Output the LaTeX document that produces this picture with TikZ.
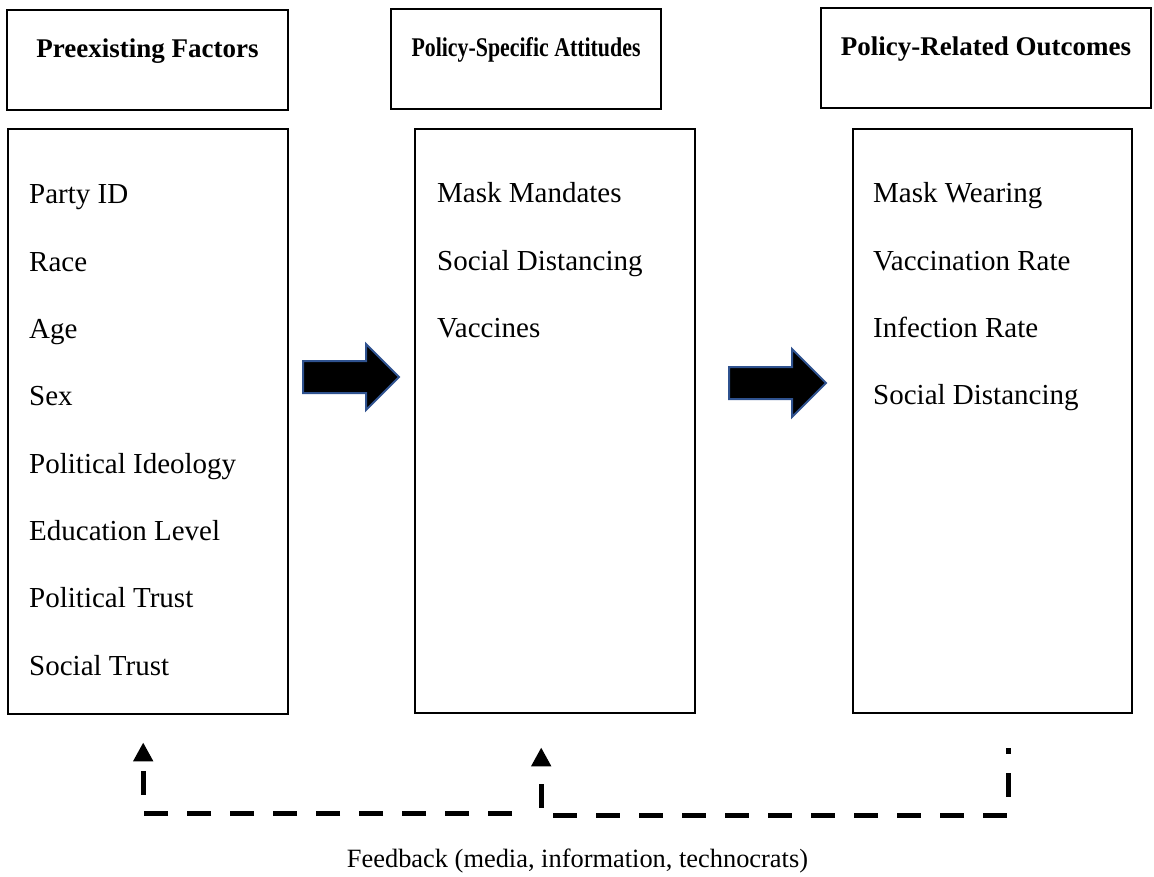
\documentclass[tikz,border=0pt]{standalone}
\usepackage{fontspec}
\setmainfont{Liberation Serif}
\usepackage{xcolor}
\usepackage{graphicx}
\usepackage{tikz}
\usetikzlibrary{arrows.meta}
\definecolor{arrowedge}{RGB}{47,82,143}

\begin{document}
\begin{tikzpicture}[
    x=1pt, y=-1pt,
    headbox/.style={draw, line width=2.4pt, minimum height=100pt, text height=19pt, text depth=23pt, font=\fontsize{27}{32}\selectfont\bfseries},
    listbox/.style={draw, line width=2.4pt, anchor=north west, minimum width=280pt, minimum height=585pt},
    item/.style={anchor=base west, inner sep=0pt, font=\fontsize{29}{34}\selectfont},
    blockarrow/.style={fill=black, draw=arrowedge, line width=2pt, line join=miter},
    feedback/.style={line width=5pt, dash pattern=on 24pt off 19pt, -{Triangle[width=19pt,length=19pt]}},
  ]
    \useasboundingbox (0,0) rectangle (1154,877);

    \node[headbox, minimum width=281pt] (hd1) at (147.5,60) {Preexisting Factors};
    \node[headbox, minimum width=270pt] (hd2) at (526,59) {\scalebox{0.81}[1]{Policy-Specific Attitudes}};
    \node[headbox, minimum width=330pt] (hd3) at (986,58) {Policy-Related Outcomes};

    \node[listbox] (col1) at (7,128) {};
    \node[listbox, minimum height=584pt] (col2) at (414,128) {};
    \node[listbox, minimum width=279pt, minimum height=584pt] (col3) at (852,128) {};

    \foreach \txt [count=\i] in {Party ID, Race, Age, Sex, Political Ideology, Education Level, Political Trust, Social Trust}
      \node[item] (fac\i) at ([shift={(22,{76+67.3*(\i-1)})}]col1.north west) {\txt};
    \foreach \txt [count=\i] in {Mask Mandates, Social Distancing, Vaccines}
      \node[item] (att\i) at ([shift={(23,{75+67.3*(\i-1)})}]col2.north west) {\txt};
    \foreach \txt [count=\i] in {Mask Wearing, Vaccination Rate, Infection Rate, Social Distancing}
      \node[item] (out\i) at ([shift={(21,{75+67.3*(\i-1)})}]col3.north west) {\txt};

    \draw[blockarrow, shift={(303,377)}] (0,-16) -- (63,-16) -- (63,-33) -- (96,0) -- (63,33) -- (63,16) -- (0,16) -- cycle;
    \draw[blockarrow, shift={(729,383)}] (0,-16) -- (63,-16) -- (63,-34) -- (97,0) -- (63,34) -- (63,16) -- (0,16) -- cycle;

    \coordinate (fbL) at ([shift={(-5,27)}]col1.south);
    \coordinate (fbM) at ([shift={(-14,33)}]col2.south);
    \coordinate (fbR) at ([shift={(15.5,34)}]col3.south);
    \coordinate (fbA) at (512,813);
    \coordinate (fbB) at (fbM |- 0,815);
    \draw[feedback] (fbA) -| (fbL);
    \draw[feedback, dash phase=18pt] (fbR) |- (fbB) -- (fbM);

    \node[anchor=base, font=\fontsize{26.4}{30}\selectfont] (fbtext) at (577.5,867) {Feedback (media, information, technocrats)};
  \end{tikzpicture}
\end{document}
